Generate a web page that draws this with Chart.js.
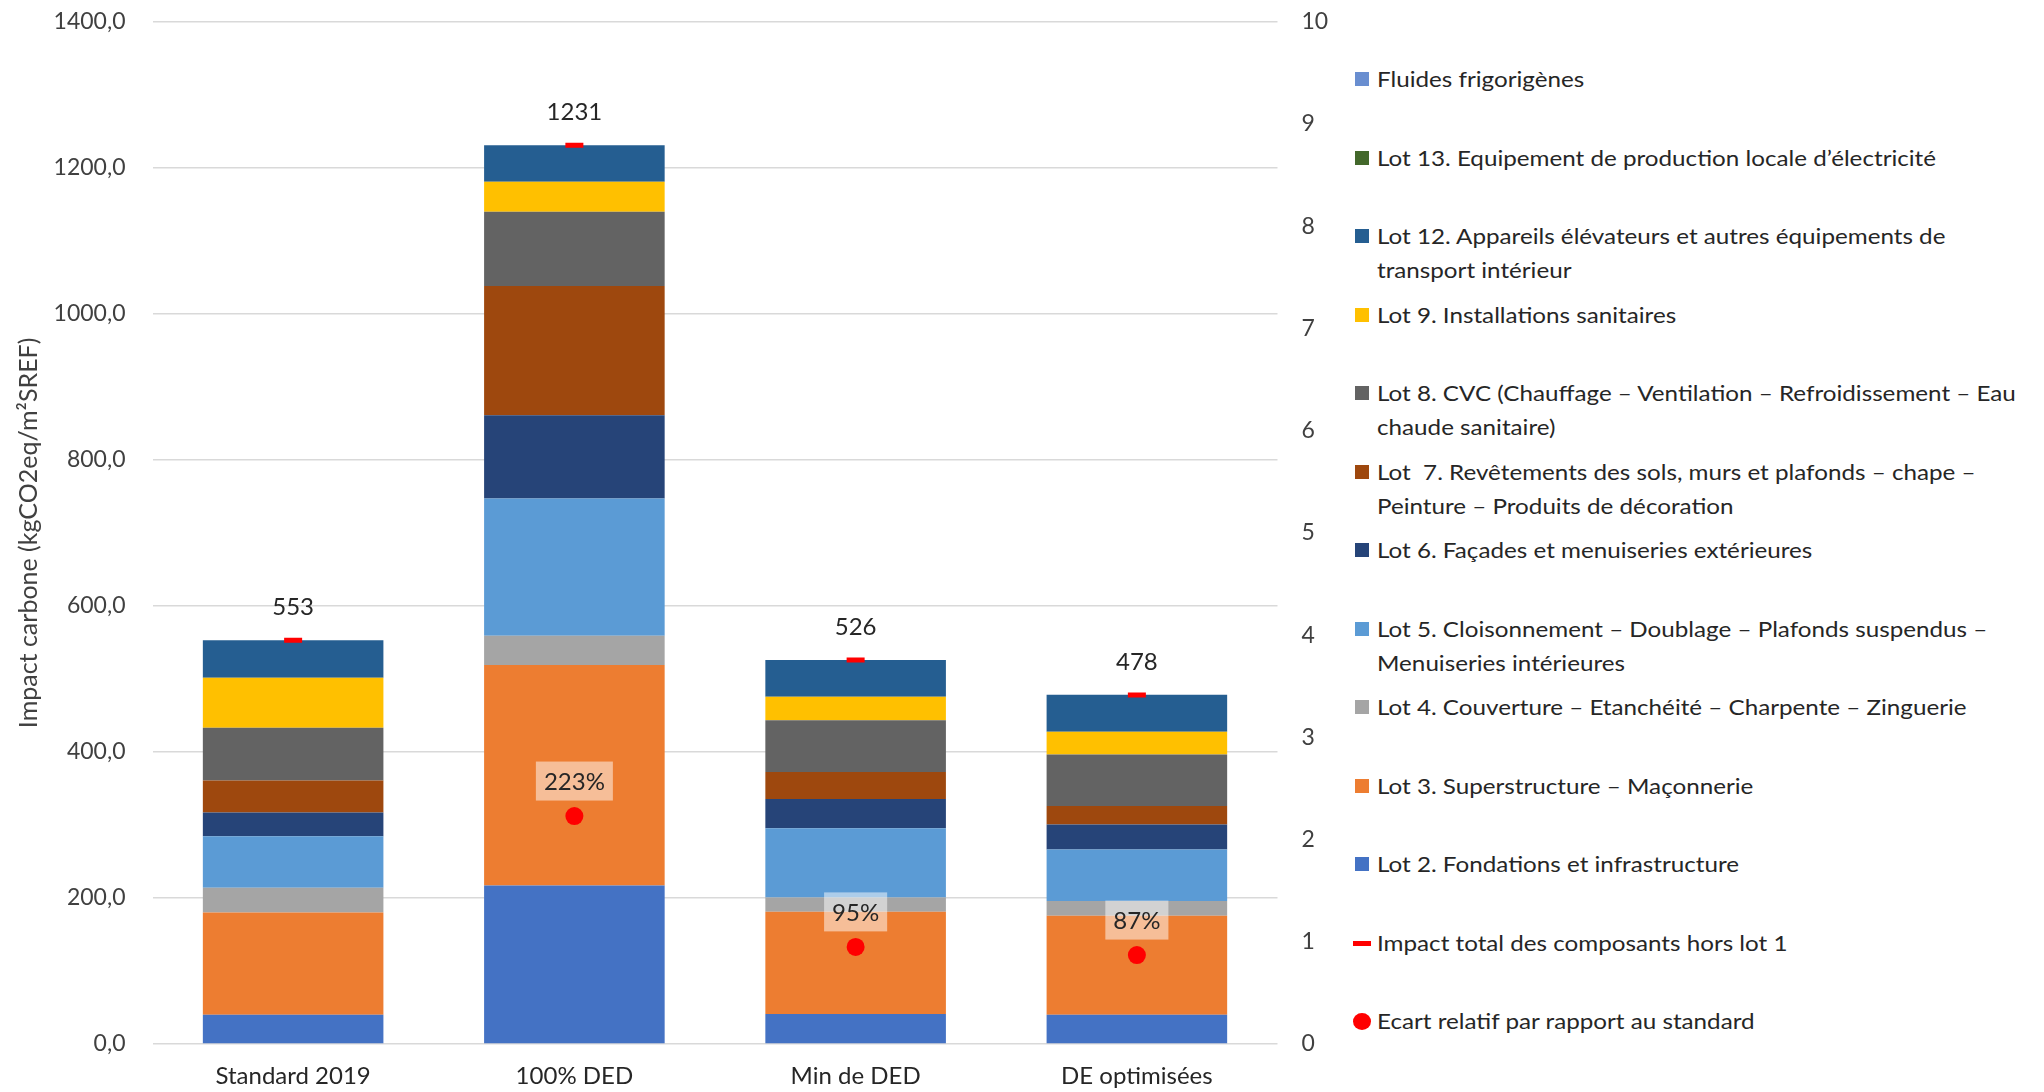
<!DOCTYPE html>
<html>
<head>
<meta charset="utf-8">
<script src="https://cdn.jsdelivr.net/npm/chart.js@4.4.0/dist/chart.umd.min.js"></script>
<style>
  html, body { margin: 0; padding: 0; background: #fff; overflow: hidden; }
  #wrap { position: relative; width: 2044px; height: 1092px; overflow: hidden; }
  #chart-box { position: absolute; left: 0; top: -19px; width: 1345px; height: 1111px; }
  #legend { position: absolute; left: 1353px; top: 0; width: 690px; height: 1092px;
            font-family: Lato, sans-serif; font-size: 22px; color: #262626; }
  .item { position: absolute; left: 0; width: 680px; line-height: 34px; }
  .item .mark { position: absolute; left: 0; }
  .item .txt { margin-left: 24px; width: 592px; white-space: pre-wrap;
               transform: scaleX(1.1); transform-origin: left center; }
</style>
</head>
<body>
<div id="wrap">
  <div id="chart-box"><canvas id="chart"></canvas></div>
  <div id="legend"></div>
</div>
<script>
// Categories
const categories = ['Standard 2019', '100% DED', 'Min de DED', 'DE optimisées'];

// Stacked values (kgCO2eq/m²SREF)
const lot2 = [40, 217, 41, 40];
const lot3 = [140, 302, 140, 135.5];
const lot4 = [34, 40, 19.5, 20.5];
const lot5 = [70.5, 188, 95, 70.5];
const lot6 = [32.5, 114, 40, 34];
const lot7 = [44, 177, 37, 25.5];
const lot8 = [72, 102, 71, 70.5];
const lot9 = [68.5, 41, 32, 31];
const lot12 = [51.5, 50, 50.5, 51];
const lot13 = [0, 0, 0, 0];
const fluides = [0, 0, 0, 0];

// Line series
const totalHorsLot1 = [553, 1231, 526, 478];
const ecartRelatif = [null, 2.23, 0.95, 0.87];

// Axis ticks
const leftTicks = [0, 200, 400, 600, 800, 1000, 1200, 1400];
const rightTicks = [0, 1, 2, 3, 4, 5, 6, 7, 8, 9, 10];

const barSeries = [
    { label: 'Lot 2. Fondations et infrastructure', data: lot2, color: '#4472C4' },
    { label: 'Lot 3. Superstructure – Maçonnerie', data: lot3, color: '#ED7D31' },
    { label: 'Lot 4. Couverture – Etanchéité – Charpente – Zinguerie', data: lot4, color: '#A5A5A5' },
    { label: 'Lot 5. Cloisonnement – Doublage – Plafonds suspendus – Menuiseries intérieures', data: lot5, color: '#5B9BD5' },
    { label: 'Lot 6. Façades et menuiseries extérieures', data: lot6, color: '#264478' },
    { label: 'Lot  7. Revêtements des sols, murs et plafonds – chape – Peinture – Produits de décoration', data: lot7, color: '#9E480E' },
    { label: 'Lot 8. CVC (Chauffage – Ventilation – Refroidissement – Eau chaude sanitaire)', data: lot8, color: '#636363' },
    { label: 'Lot 9. Installations sanitaires', data: lot9, color: '#FFC000' },
    { label: 'Lot 12. Appareils élévateurs et autres équipements de transport intérieur', data: lot12, color: '#255E91' },
    { label: 'Lot 13. Equipement de production locale d’électricité', data: lot13, color: '#43682B' },
    { label: 'Fluides frigorigènes', data: fluides, color: '#698ED0' }
];

const TICK_FONT = { family: 'Lato', size: 23 };
const TICK_COLOR = '#404040';
const TEXT_COLOR = '#262626';

const datasets = barSeries.map(s => ({
    type: 'bar',
    label: s.label,
    data: s.data,
    backgroundColor: s.color,
    borderWidth: 0,
    stack: 'lots',
    yAxisID: 'y',
    categoryPercentage: 0.642,
    barPercentage: 1,
    order: 1
}));

datasets.push({
    type: 'line',
    label: 'Impact total des composants hors lot 1',
    data: totalHorsLot1,
    showLine: false,
    yAxisID: 'y',
    stack: 'total',
    pointStyle: 'line',
    pointRadius: 9,
    pointHoverRadius: 9,
    pointBorderWidth: 5,
    borderColor: '#FF0000',
    backgroundColor: '#FF0000',
    order: 0
});

datasets.push({
    type: 'line',
    label: 'Ecart relatif par rapport au standard',
    data: ecartRelatif,
    showLine: false,
    yAxisID: 'y2',
    pointStyle: 'circle',
    pointRadius: 9,
    pointHoverRadius: 9,
    pointBorderWidth: 0,
    borderColor: '#FF0000',
    backgroundColor: '#FF0000',
    order: 0
});

// Draws the value labels above the red markers
const valueLabels = {
    id: 'valueLabels',
    afterDatasetsDraw(chart) {
        const ctx = chart.ctx;
        ctx.save();
        ctx.font = '24px Lato';
        ctx.textAlign = 'center';
        ctx.textBaseline = 'middle';

        const totalMeta = chart.getDatasetMeta(barSeries.length);
        totalMeta.data.forEach((pt, i) => {
            ctx.fillStyle = TEXT_COLOR;
            ctx.fillText(String(totalHorsLot1[i]), pt.x, pt.y - 33);
        });

        const ecartMeta = chart.getDatasetMeta(barSeries.length + 1);
        ecartMeta.data.forEach((pt, i) => {
            if (ecartRelatif[i] == null) return;
            const txt = Math.round(ecartRelatif[i] * 100) + '%';
            const w = ctx.measureText(txt).width + 16;
            const h = 39;
            const cy = pt.y - 35;
            ctx.fillStyle = 'rgba(255,255,255,0.5)';
            ctx.fillRect(pt.x - w / 2, cy - h / 2, w, h);
            ctx.fillStyle = TEXT_COLOR;
            ctx.fillText(txt, pt.x, cy + 1);
        });
        ctx.restore();
    }
};

const ctx = document.getElementById('chart').getContext('2d');
new Chart(ctx, {
    data: { labels: categories, datasets: datasets },
    plugins: [valueLabels],
    options: {
        responsive: true,
        maintainAspectRatio: false,
        animation: false,
        devicePixelRatio: 1,
        layout: { autoPadding: false, padding: { top: 6, left: 0, right: 0, bottom: 0 } },
        plugins: {
            legend: { display: false },
            tooltip: { enabled: false }
        },
        scales: {
            x: {
                stacked: true,
                grid: { display: false, drawTicks: false },
                border: { display: false },
                ticks: { font: { family: 'Lato', size: 24 }, color: TEXT_COLOR, padding: 18 },
                afterFit: scale => { scale.height = 48; }
            },
            y: {
                stacked: true,
                min: 0,
                max: 1400,
                afterBuildTicks: scale => { scale.ticks = leftTicks.map(v => ({ value: v })); },
                ticks: {
                    font: TICK_FONT,
                    color: TICK_COLOR,
                    padding: 27,
                    callback: v => v.toFixed(1).replace('.', ',')
                },
                grid: { color: '#D9D9D9', lineWidth: 1.5, drawTicks: false },
                border: { display: false },
                title: {
                    display: true,
                    text: 'Impact carbone (kgCO2eq/m²SREF)',
                    font: { family: 'Lato', size: 25 },
                    color: TICK_COLOR,
                    padding: { top: 14, bottom: 0 }
                },
                afterFit: scale => { scale.width = 152.5; }
            },
            y2: {
                position: 'right',
                min: 0,
                max: 10,
                afterBuildTicks: scale => { scale.ticks = rightTicks.map(v => ({ value: v })); },
                ticks: { font: TICK_FONT, color: TICK_COLOR, padding: 24 },
                grid: { display: false, drawTicks: false },
                border: { display: false },
                afterFit: scale => { scale.width = 67.5; }
            }
        }
    }
});

// Legend, listed from the top of the stack down, then the two marker series
const legend = document.getElementById('legend');
const legendItems = barSeries.slice().reverse().map(s => ({ label: s.label, color: s.color, kind: 'box' }));
legendItems.push({ label: datasets[barSeries.length].label, color: '#FF0000', kind: 'line' });
legendItems.push({ label: datasets[barSeries.length + 1].label, color: '#FF0000', kind: 'dot' });

legendItems.forEach((it, i) => {
    const div = document.createElement('div');
    div.className = 'item';
    div.style.top = (79 + 78.5 * i - 17) + 'px';
    const mark = document.createElement('span');
    mark.className = 'mark';
    if (it.kind === 'box') {
        Object.assign(mark.style, { width: '14px', height: '14px', top: '10px', left: '2px', background: it.color });
    } else if (it.kind === 'line') {
        Object.assign(mark.style, { width: '18px', height: '5px', top: '15px', left: '0px', background: it.color });
    } else {
        Object.assign(mark.style, { width: '18px', height: '17px', top: '9px', left: '0px', background: it.color, borderRadius: '50%' });
    }
    const txt = document.createElement('div');
    txt.className = 'txt';
    txt.textContent = it.label;
    div.appendChild(mark);
    div.appendChild(txt);
    legend.appendChild(div);
});
</script>
</body>
</html>
